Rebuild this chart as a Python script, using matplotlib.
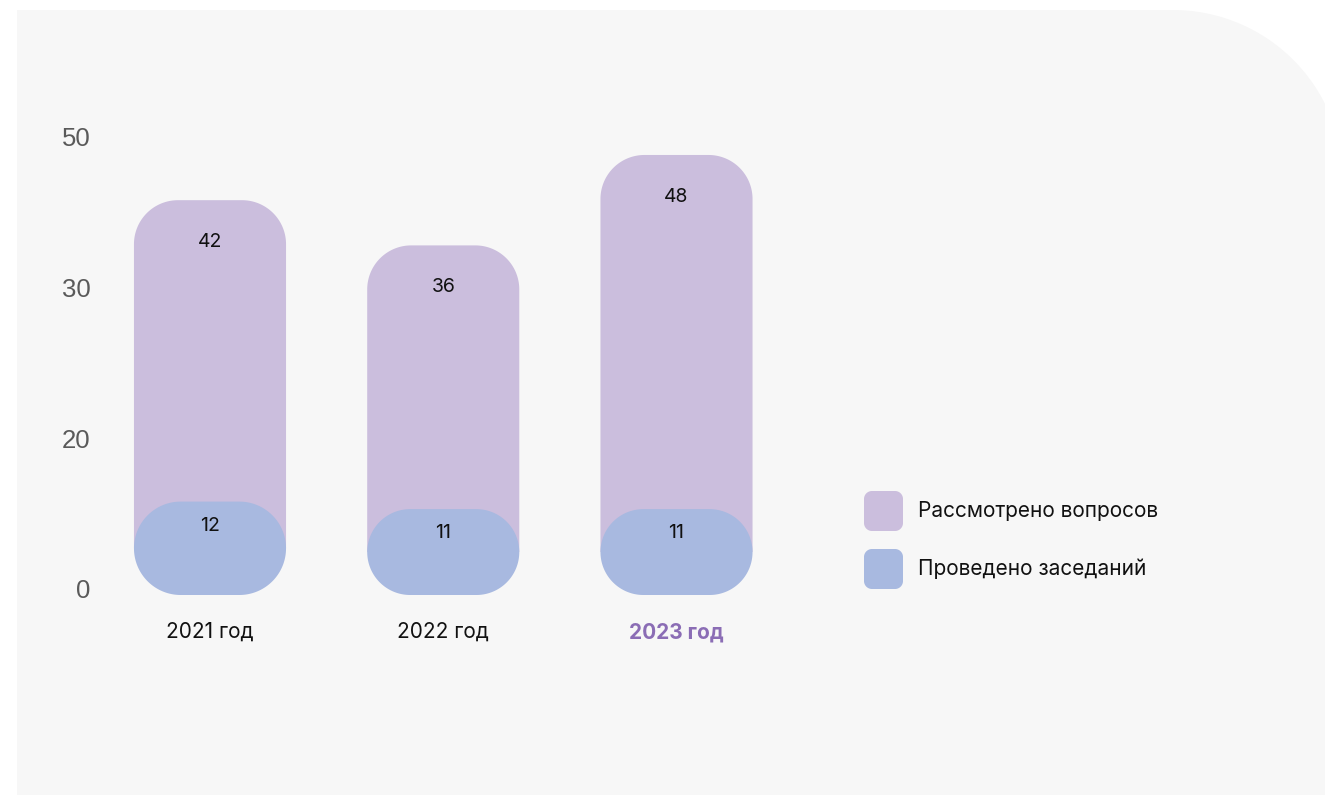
import numpy as np
import matplotlib
matplotlib.use("Agg")
import matplotlib.pyplot as plt
from matplotlib.patches import Polygon
from matplotlib.transforms import IdentityTransform, ScaledTranslation

# chart data
years = ["2021 год", "2022 год", "2023 год"]
questions = [42, 36, 48]      # Рассмотрено вопросов
meetings = [12, 11, 11]       # Проведено заседаний
series_names = ["Рассмотрено вопросов", "Проведено заседаний"]
y_ticks = [0, 20, 30, 50]

# colours
panel_col = "#f7f7f7"
purple = "#cbbedd"
blue = "#a8b9e0"
accent = "#8b6db5"

W, H, DPI = 1325, 795, 100
fig = plt.figure(figsize=(W / DPI, H / DPI), dpi=DPI, facecolor="white")
plt.rcParams["font.family"] = ["Inter", "DejaVu Sans"]


def rounded_rect(x0, y0, x1, y1, r_top=0, r_bot=0, n=40):
    """Polygon vertices of a box with circular corners (pixels, y up)."""
    a = np.linspace(0, np.pi / 2, n)
    pts = []
    # bottom-left, bottom-right, top-right, top-left
    for cx, cy, r, start in [(x0 + r_bot, y0 + r_bot, r_bot, np.pi),
                             (x1 - r_bot, y0 + r_bot, r_bot, 1.5 * np.pi),
                             (x1 - r_top, y1 - r_top, r_top, 0),
                             (x0 + r_top, y1 - r_top, r_top, 0.5 * np.pi)]:
        pts.append(np.column_stack([cx + r * np.cos(a + start), cy + r * np.sin(a + start)]))
    return np.vstack(pts)


def add_box(target, verts, color, z):
    patch = Polygon(verts, closed=True, facecolor=color, edgecolor="none",
                    transform=IdentityTransform(), zorder=z)
    if target is fig:
        fig.add_artist(patch)
    else:
        patch.set_clip_on(False)
        target.add_patch(patch)


# grey panel with a big rounded top-right corner (runs past the right edge)
pr = 170
a = np.linspace(0, np.pi / 2, 80)
corner = np.column_stack([1343 - pr + pr * np.cos(a), H - 10 - pr + pr * np.sin(a)])
panel = np.vstack([[17, 0], [1343, 0], corner, [17, H - 10]])
add_box(fig, panel, panel_col, 0)

# axes: categories evenly spaced, y axis spaced evenly by tick labels
step = 233.25
left_px = 210 - 0.5 * step
zero_px = H - 592
top_px = zero_px + 3 * 150.7
ax = fig.add_axes([left_px / W, zero_px / H, 3 * step / W, (top_px - zero_px) / H])
ax.patch.set_visible(False)
for s in ax.spines.values():
    s.set_visible(False)

knots = np.array(y_ticks, dtype=float)
steps = np.arange(len(y_ticks), dtype=float)


def fwd(v):
    return np.interp(v, knots, steps)


def inv(p):
    return np.interp(p, steps, knots)


ax.set_yscale("function", functions=(fwd, inv))
ax.set_xlim(-0.5, len(years) - 0.5)
ax.set_ylim(0, 50)
ax.set_yticks(y_ticks)
ax.set_yticklabels([str(v) for v in y_ticks], family="Liberation Sans",
                   fontsize=18.5, color="#5a5a5a")
ax.tick_params(axis="y", length=0, pad=2)
for lab in ax.get_yticklabels():
    lab.set_transform(lab.get_transform() + ScaledTranslation(0, 3 / DPI, fig.dpi_scale_trans))
ax.set_xticks([])

bar_w = 0.652
r_top = 44
r_pill = 47
to_px = ax.transData.transform

for i, (q, m) in enumerate(zip(questions, meetings)):
    (x0, yb), = to_px([(i - bar_w / 2, 0)])
    (x1, yq), = to_px([(i + bar_w / 2, q)])
    (_, ym), = to_px([(i, m)])
    yb -= 3

    # purple column, rounded on top; its square bottom sits behind the blue pill
    mid = (yb + ym) / 2
    add_box(ax, rounded_rect(x0, mid, x1, yq, r_top=r_top), purple, 2)

    # blue pill
    rr = min(r_pill, (ym - yb) / 2)
    add_box(ax, rounded_rect(x0, yb, x1, ym, r_top=rr, r_bot=rr), blue, 3)

    xc = (x0 + x1) / 2
    ax.text(xc, yq - 42, str(q), transform=IdentityTransform(), ha="center", va="center",
            fontsize=14, color="#111111", zorder=4)
    ax.text(xc, ym - 24, str(m), transform=IdentityTransform(), ha="center", va="center",
            fontsize=14, color="#111111", zorder=4)

    last = i == len(years) - 1
    ax.text(xc, H - 632, years[i], transform=IdentityTransform(), ha="center", va="center",
            fontsize=15, color=accent if last else "#111111",
            fontweight="bold" if last else "normal")

# legend drawn as rounded swatches
for k, (name, col) in enumerate(zip(series_names, [purple, blue])):
    ycen = H - (511 + 58 * k)
    add_box(fig, rounded_rect(864, ycen - 20, 903, ycen + 20, r_top=8, r_bot=8), col, 1)
    fig.text(918 / W, ycen / H, name, ha="left", va="center", fontsize=15, color="#111111")

fig.savefig("out.png", dpi=DPI, facecolor="white")
